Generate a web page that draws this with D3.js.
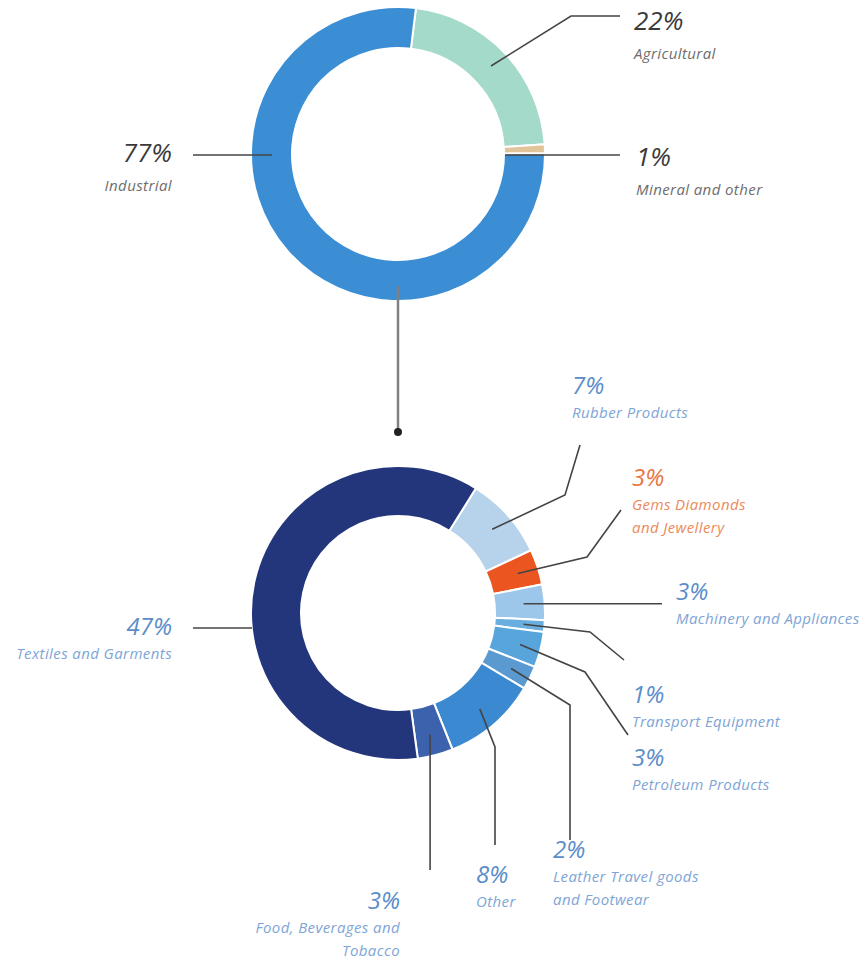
<!DOCTYPE html>
<html>
<head>
<meta charset="utf-8">
<script src="https://cdn.jsdelivr.net/npm/d3@7"></script>
<style>
  body { margin: 0; background: #fff; }
  text { font-family: "Open Sans", "Noto Sans", sans-serif; font-style: italic; }
</style>
</head>
<body>
<div id="viz"></div>
<script>
// data
var topCategories = ["Agricultural", "Mineral and other", "Industrial"];
var topValues = [22, 1, 77];
var bottomCategories = ["Rubber Products", "Gems Diamonds and Jewellery", "Machinery and Appliances",
  "Transport Equipment", "Petroleum Products", "Leather Travel goods and Footwear",
  "Other", "Food, Beverages and Tobacco", "Textiles and Garments"];
var bottomValues = [7, 3, 3, 1, 3, 2, 8, 3, 47];

// styling / layout (not data)
var topColors = ["#a4dac9", "#e2c49a", "#3b8ed4"];
var bottomColors = ["#b7d3ec", "#ea5520", "#9cc6ea", "#6aaee0", "#58a5dc", "#5b9ad0", "#3a89d1", "#3d62ad", "#23367b"];

var width = 867, height = 963;
var topC = {x: 398, y: 154, r0: 106, r1: 147};
var botC = {x: 398, y: 613, r0: 97, r1: 147};

// label lines + leader elbows (annotation layout)
var topLabels = [
  {lines: ["Agricultural"], x: 634, y: 30, anchor: "start", pts: [[571, 16], [620, 16]], lr: 128, upright: true},
  {lines: ["Mineral and other"], x: 636, y: 166, anchor: "start", pts: [[620, 155]], fixedStart: [505, 155], upright: true},
  {lines: ["Industrial"], x: 172, y: 162, anchor: "end", pts: [[193, 155]], fixedStart: [272, 155]}
];
var bottomLabels = [
  {lines: ["Rubber Products"], x: 572, y: 394, anchor: "start", pts: [[565, 495], [580, 445]]},
  {lines: ["Gems Diamonds", "and Jewellery"], x: 632, y: 486, anchor: "start", pts: [[587, 557], [621, 510]], orange: true},
  {lines: ["Machinery and Appliances"], x: 676, y: 600, anchor: "start", pts: [[662, null]]},
  {lines: ["Transport Equipment"], x: 632, y: 703, anchor: "start", pts: [[590, 632], [624, 660]]},
  {lines: ["Petroleum Products"], x: 632, y: 766, anchor: "start", pts: [[585, 672], [628, 735]]},
  {lines: ["Leather Travel goods", "and Footwear"], x: 553, y: 858, anchor: "start", pts: [[570, 705], [570, 840]]},
  {lines: ["Other"], x: 476, y: 883, anchor: "start", pts: [[495, 747], [495, 845]]},
  {lines: ["Food, Beverages and", "Tobacco"], x: 400, y: 909, anchor: "end", pts: [[null, 870]]},
  {lines: ["Textiles and Garments"], x: 172, y: 635, anchor: "end", pts: [[193, 628]], fixedStart: [252, 628]}
];

var svg = d3.select("#viz").append("svg")
  .attr("width", width)
  .attr("height", height);

var deg = Math.PI / 180;

function drawDonut(c, cats, vals, colors, start) {
  var pie = d3.pie().sort(null).value(d => d.value)
    .startAngle(start).endAngle(start + 2 * Math.PI);
  var arcs = pie(vals.map((v, i) => ({name: cats[i], value: v})));
  var arc = d3.arc().innerRadius(c.r0).outerRadius(c.r1);
  var g = svg.append("g").attr("transform", `translate(${c.x},${c.y})`);
  g.selectAll("path")
    .data(arcs)
    .enter().append("path")
    .attr("d", arc)
    .attr("fill", (d, i) => colors[i])
    .attr("stroke", "#fff")
    .attr("stroke-width", 2);
  return arcs;
}

var topArcs = drawDonut(topC, topCategories, topValues, topColors, 7 * deg);
var botArcs = drawDonut(botC, bottomCategories, bottomValues, bottomColors, 32 * deg);

// connector between the two donuts
svg.append("line")
  .attr("x1", topC.x).attr("y1", topC.y + topC.r1 - 15)
  .attr("x2", botC.x).attr("y2", 432)
  .attr("stroke", "#808080").attr("stroke-width", 2.5);
svg.append("circle")
  .attr("cx", botC.x).attr("cy", 432).attr("r", 4)
  .attr("fill", "#222");

function leaderStart(c, d, r) {
  var a = (d.startAngle + d.endAngle) / 2;
  return [c.x + r * Math.sin(a), c.y - r * Math.cos(a)];
}

var line = d3.line();

function drawLabels(c, arcs, layout, vals, style) {
  layout.forEach(function(L, i) {
    var s = L.fixedStart || leaderStart(c, arcs[i], L.lr || (c.r0 + c.r1) / 2 + 4);
    var pts = [s].concat(L.pts.map(p => [p[0] == null ? s[0] : p[0], p[1] == null ? s[1] : p[1]]));
    svg.append("path")
      .attr("d", line(pts))
      .attr("fill", "none")
      .attr("stroke", "#444")
      .attr("stroke-width", 1.6);

    var pctColor = L.orange ? "#e8763e" : style.pct;
    var nameColor = L.orange ? "#ec8a5a" : style.name;
    svg.append("text")
      .attr("x", L.x).attr("y", L.y)
      .attr("text-anchor", L.anchor)
      .attr("font-size", style.pctSize)
      .attr("font-style", L.upright ? "normal" : "italic")
      .attr("fill", pctColor)
      .text(vals[i] + "%");
    L.lines.forEach(function(t, j) {
      svg.append("text")
        .attr("x", L.x).attr("y", L.y + style.gap + j * 23)
        .attr("text-anchor", L.anchor)
        .attr("font-size", style.nameSize)
        .attr("fill", nameColor)
        .attr("letter-spacing", 0.4)
        .text(t);
    });
  });
}

drawLabels(topC, topArcs, topLabels, topValues,
  {pct: "#3a3a3a", name: "#6d6d6d", pctSize: 26, nameSize: 15, gap: 29});
drawLabels(botC, botArcs, bottomLabels, bottomValues,
  {pct: "#5a8dc9", name: "#7ea5d6", pctSize: 24, nameSize: 15, gap: 24});
</script>
</body>
</html>
